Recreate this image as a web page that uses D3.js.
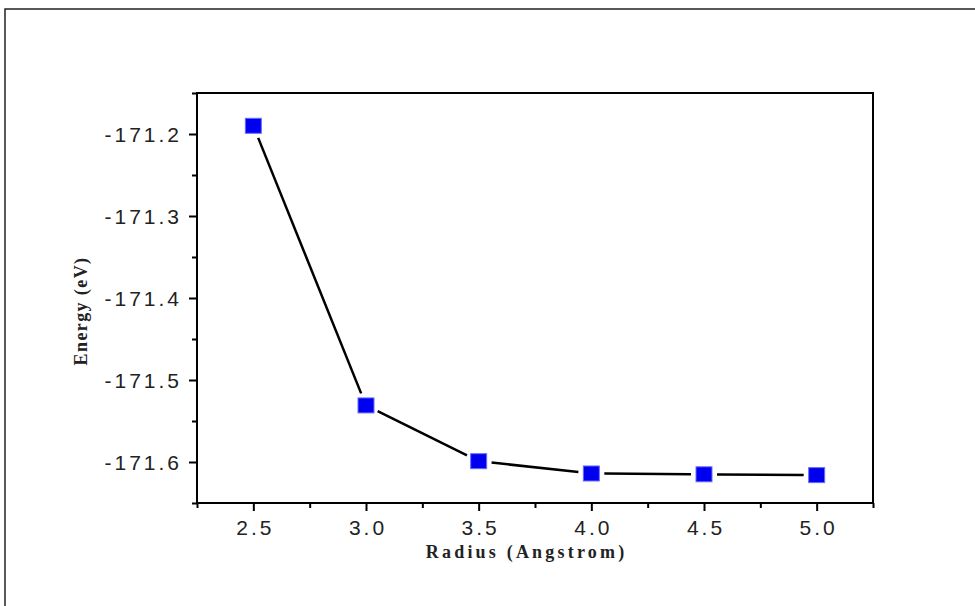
<!DOCTYPE html>
<html>
<head>
<meta charset="utf-8">
<script src="https://cdn.jsdelivr.net/npm/d3@7"></script>
<style>
  body { margin: 0; background: #fff; }
  svg { display: block; }
</style>
</head>
<body>
<svg></svg>
<script>
// data
var radius = [2.5, 3.0, 3.5, 4.0, 4.5, 5.0];
var energy = [-171.19, -171.531, -171.599, -171.614, -171.615, -171.616];
var xTicks = [2.5, 3.0, 3.5, 4.0, 4.5, 5.0];
var yTicks = [-171.6, -171.5, -171.4, -171.3, -171.2];
var xMinor = [2.25, 2.75, 3.25, 3.75, 4.25, 4.75, 5.25];
var yMinor = [-171.65, -171.55, -171.45, -171.35, -171.25, -171.15];

var W = 975, H = 606;
var margin = {top: 93, right: 102, bottom: 103, left: 197};
var width = W - margin.left - margin.right;
var height = H - margin.top - margin.bottom;

var svg = d3.select('svg').attr('width', W).attr('height', H);

// outer frame (runs off the right and bottom edge)
svg.append('rect')
  .attr('x', 5).attr('y', 9)
  .attr('width', W + 20).attr('height', H + 20)
  .attr('fill', 'none')
  .attr('stroke', '#222')
  .attr('stroke-width', 1.5);

var g = svg.append('g').attr('transform', `translate(${margin.left},${margin.top})`);

var x = d3.scaleLinear().domain([2.25, 5.25]).range([0, width]);
var y = d3.scaleLinear().domain([-171.65, -171.15]).range([height, 0]);

var sp = 3;

// minor ticks
g.append('g')
  .attr('transform', `translate(0,${height})`)
  .call(d3.axisBottom(x).tickValues(xMinor).tickFormat('').tickSize(5).tickSizeOuter(0));
g.append('g')
  .call(d3.axisLeft(y).tickValues(yMinor).tickFormat('').tickSize(5).tickSizeOuter(0));

// major ticks
var xAxis = g.append('g')
  .attr('transform', `translate(0,${height})`)
  .call(d3.axisBottom(x).tickValues(xTicks).tickFormat(d => d.toFixed(1)).tickSize(8).tickPadding(8).tickSizeOuter(0));
var yAxis = g.append('g')
  .call(d3.axisLeft(y).tickValues(yTicks).tickFormat(d => d.toFixed(1)).tickSize(8).tickPadding(10).tickSizeOuter(0));

g.selectAll('.tick line').attr('stroke', '#000').attr('stroke-width', 2);
g.selectAll('.domain').remove();

g.selectAll('.tick text')
  .attr('fill', '#222')
  .style('font-family', 'Liberation Sans, Arial, sans-serif')
  .style('font-size', '21px')
  .style('letter-spacing', sp + 'px');
xAxis.selectAll('.tick text').attr('dx', sp / 2).attr('dy', '0.78em');
yAxis.selectAll('.tick text').attr('dx', sp).attr('dy', '0.36em');

// plot box
g.append('rect')
  .attr('x', 0).attr('y', 0)
  .attr('width', width).attr('height', height)
  .attr('fill', 'none')
  .attr('stroke', '#000')
  .attr('stroke-width', 2);

// line segments, stopped short of the markers
var pts = radius.map((r, i) => [x(r), y(energy[i])]);
var gap = 13;
for (var i = 0; i < pts.length - 1; i++) {
  var a = pts[i], b = pts[i + 1];
  var dx = b[0] - a[0], dy = b[1] - a[1];
  var len = Math.sqrt(dx * dx + dy * dy);
  var ux = dx / len, uy = dy / len;
  g.append('line')
    .attr('x1', a[0] + ux * gap).attr('y1', a[1] + uy * gap)
    .attr('x2', b[0] - ux * gap).attr('y2', b[1] - uy * gap)
    .attr('stroke', '#000')
    .attr('stroke-width', 2.5);
}

// square markers
g.selectAll('.pt')
  .data(radius)
  .enter()
  .append('rect')
  .attr('class', 'pt')
  .attr('x', (d, i) => x(d) - 8)
  .attr('y', (d, i) => y(energy[i]) - 7.5)
  .attr('width', 16)
  .attr('height', 15)
  .attr('fill', '#0000f0')
  .attr('stroke', '#6a6aff')
  .attr('stroke-width', 1);

// axis titles
svg.append('text')
  .attr('x', margin.left + width / 2 - 10 + 1.6)
  .attr('y', 558)
  .attr('text-anchor', 'middle')
  .style('font-family', 'Liberation Serif, Times New Roman, serif')
  .style('font-weight', 'bold')
  .style('font-size', '18px')
  .style('letter-spacing', '3.2px')
  .attr('fill', '#222')
  .text('Radius (Angstrom)');

svg.append('text')
  .attr('transform', 'translate(87,311) rotate(-90)')
  .attr('text-anchor', 'middle')
  .style('font-family', 'Liberation Serif, Times New Roman, serif')
  .style('font-weight', 'bold')
  .style('font-size', '18px')
  .style('letter-spacing', '1.4px')
  .attr('fill', '#222')
  .text('Energy (eV)');
</script>
</body>
</html>
